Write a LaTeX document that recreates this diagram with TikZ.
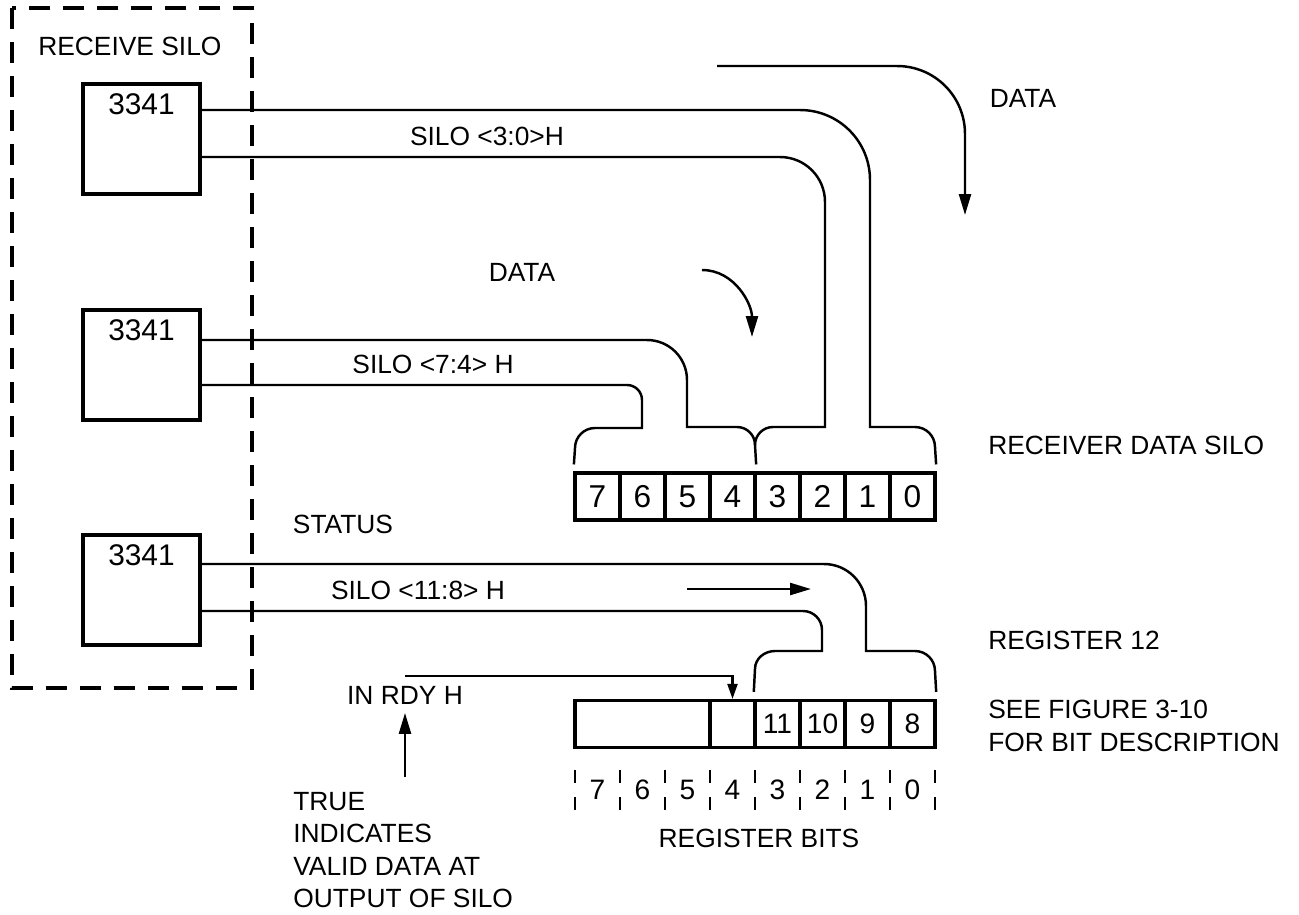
\documentclass[tikz,border=0pt]{standalone}
\usepackage{fontspec}
\setmainfont{Liberation Sans}
\usetikzlibrary{arrows.meta, positioning}

\begin{document}
\begin{tikzpicture}[
  x=0.02cm, y=0.02cm,
  font=\fontsize{15}{18}\selectfont,
  chip/.style={rectangle, draw=black, line width=2pt, minimum width=2.34cm,
               text height=0.4cm, text depth=1.36cm, inner ysep=0.22cm,
               anchor=north, font=\fontsize{17}{18}\selectfont},
  cell/.style={rectangle, draw=black, line width=1.8pt, minimum width=0.9cm,
               minimum height=0.94cm, inner sep=0pt,
               font=\fontsize{18}{20}\selectfont},
  bus/.style={line width=1.4pt},
  brk/.style={line width=1.4pt, shorten >=0.14cm},
  arr/.style={-{Triangle[length=0.42cm, width=0.24cm]}, line width=1.4pt},
  sarr/.style={-{Triangle[length=0.3cm, width=0.2cm]}, line width=1.2pt},
  lbl/.style={inner sep=0pt, align=left},
  note/.style={inner sep=0pt, align=left, font=\fontsize{15}{18.4}\selectfont},
  tick/.style={line width=1.2pt, dash pattern=on 0.26cm off 0.28cm},
  silo/.style={draw=black, line width=1.8pt, dash pattern=on 0.42cm off 0.26cm}
]
\useasboundingbox (0,0) rectangle (1299,-914);

% receive silo
\draw[silo] (12,-8) rectangle (252,-688);
\node[lbl, anchor=west] (siloLbl) at (38,-46) {RECEIVE SILO};

\node[chip] (chipA) at (141.5,-82) {3341};
\node[chip] (chipB) at (141.5,-308) {3341};
\node[chip] (chipC) at (141.5,-533) {3341};

% receiver data silo
\foreach \b in {7,...,0}
  \node[cell] (d\b) at ({597.5+45*(7-\b)},-496.5) {\b};
\node[lbl, anchor=west] (dataSiloLbl) at (988,-445) {RECEIVER DATA SILO};

% register 12
\node[cell, minimum width=2.7cm] (rfree) at (642.5,-724) {};
\node[cell] (rdy) at (732.5,-724) {};
\foreach \b/\n in {3/11,2/10,1/9,0/8}
  \node[cell, font=\fontsize{16}{18}\selectfont] (r\n)
    at ({597.5+45*(7-\b)},-724) {\n};
\node[lbl, anchor=west] (regLbl) at (988,-640) {REGISTER 12};
\node[note, anchor=north west] (seeLbl) at (988,-700)
  {SEE FIGURE 3-10\\FOR BIT DESCRIPTION};

% register bits
\foreach \k in {0,...,8}
  \draw[tick] ({575+45*\k},-770) -- ({575+45*\k},-812);
\foreach \b in {7,...,0}
  \node[lbl, font=\fontsize{16}{18}\selectfont] (bit\b)
    at ({597.5+45*(7-\b)},-790) {\b};
\node[lbl] (bitsLbl) at (759,-838) {REGISTER BITS};

% bus SILO <3:0>
\draw[brk] (chipA.east |- 0,-110) -- (800,-110) to[out=0,in=90] (870,-180)
  -- (870,-427) -- (915,-427) to[out=0,in=90] (935,-447) -- (d0.north east);
\draw[brk] (chipA.east |- 0,-157) -- (780,-157) to[out=0,in=90] (825,-202)
  -- (825,-427) -- (773,-427) to[out=180,in=90] (755,-445) -- (d4.north east);
\node[lbl] (busA) at (487,-136) {SILO <3:0>H};

% bus SILO <7:4>
\draw[bus] (chipB.east |- 0,-340) -- (647,-340) to[out=0,in=90] (687,-380)
  -- (687,-427) -- (737,-427) to[out=0,in=90] (755,-445);
\draw[brk] (chipB.east |- 0,-385) -- (627,-385) to[out=0,in=90] (642,-400)
  -- (642,-428) -- (595,-428) to[out=180,in=90] (575,-448) -- (d7.north west);
\node[lbl] (busB) at (433,-364) {SILO <7:4> H};

% bus SILO <11:8>
\draw[brk] (chipC.east |- 0,-564) -- (824,-564) to[out=0,in=90] (866,-606)
  -- (866,-651) -- (915,-651) to[out=0,in=90] (935,-671) -- (r8.north east);
\draw[brk] (chipC.east |- 0,-611) -- (803,-611) to[out=0,in=90] (822,-630)
  -- (822,-651) -- (775,-651) to[out=180,in=90] (755,-669) -- (r11.north west);
\node[lbl] (busC) at (418,-590) {SILO <11:8> H};
\node[lbl] (statusLbl) at (343,-524) {STATUS};

% data flow arrows
\node[lbl] (dataTop) at (1023,-98) {DATA};
\node[lbl] (dataMid) at (522,-272) {DATA};
\coordinate (flowA) at (717,-66);
\coordinate (flowB) at (702,-270);
\coordinate (flowC) at (687,-589);
\draw[arr] (flowA) -- (897,-66) to[out=0,in=90] (965,-134) -- (965,-215);
\draw[arr] (flowB) to[out=0,in=90] (752,-337);
\draw[arr] (flowC) -- (811,-589);

% in ready
\node[lbl] (inrdy) at (405,-695) {IN RDY H};
\draw[sarr] ([yshift=0.2cm]inrdy.north) -| (rdy.north);
\node[note, anchor=north west] (trueLbl) at (293,-792)
  {TRUE\\INDICATES\\VALID DATA AT\\OUTPUT OF SILO};
\draw[arr, shorten >=0.17cm] (inrdy.south |- 0,-777) -- (inrdy.south);

\end{tikzpicture}
\end{document}
